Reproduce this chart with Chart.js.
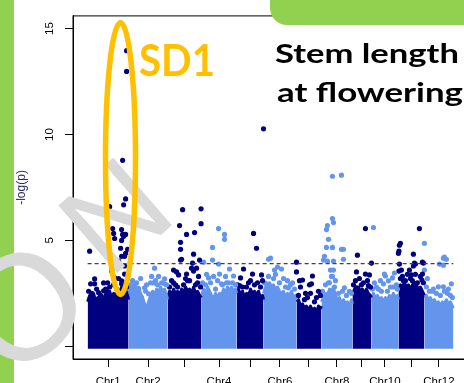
<!DOCTYPE html>
<html>
<head>
<meta charset="utf-8">
<script src="https://cdn.jsdelivr.net/npm/chart.js@4.4.1/dist/chart.umd.min.js"></script>
<style>
    html, body { margin: 0; padding: 0; background: #fff; overflow: hidden; }
    #wrap { position: relative; width: 464px; height: 383px; overflow: hidden; background: #fff; }
    #myChart { position: absolute; left: 0; top: 0; }
    .green { position: absolute; background: #92D050; }
    #overlay { position: absolute; left: 0; top: 0; }
</style>
</head>
<body>
<div id="wrap">
    <canvas id="myChart" width="480" height="383"></canvas>
    <div class="green" style="left:0;top:0;width:14px;height:383px"></div>
    <div class="green" style="left:270px;top:-20px;width:220px;height:45px;border-radius:17px"></div>
    <svg id="overlay" width="464" height="383">
        <text x="12" y="384" transform="rotate(-41 12 384)" font-family="Liberation Sans, Arial, sans-serif" font-size="150" fill="#d9d9d9">O</text>
        <text x="109" y="280" transform="rotate(-41 109 280)" font-family="Liberation Sans, Arial, sans-serif" font-size="130" fill="#d9d9d9">N</text>
        <ellipse cx="120.5" cy="158.5" rx="15" ry="136" fill="none" stroke="#FFC000" stroke-width="5.5"/>
        <text x="139" y="76" font-family="Lato, sans-serif" font-weight="700" font-size="43" fill="#FFC000" textLength="76" lengthAdjust="spacingAndGlyphs">SD1</text>
        <text x="275" y="63" font-family="Lato, sans-serif" font-weight="700" font-size="27" fill="#000" textLength="184" lengthAdjust="spacingAndGlyphs">Stem length</text>
        <text x="277" y="102" font-family="Lato, sans-serif" font-weight="700" font-size="27" fill="#000" textLength="186" lengthAdjust="spacingAndGlyphs">at flowering</text>
    </svg>
</div>
<script>
// Chromosomes (lengths in Mb, as laid out on the axis)
const chrNames = ["Chr1", "Chr2", "Chr3", "Chr4", "Chr5", "Chr6", "Chr7", "Chr8", "Chr9", "Chr10", "Chr11", "Chr12"];
const chrLengths = [41, 39, 34, 35, 27, 33, 25, 31, 19, 27, 26, 29];
const shownLabels = ["Chr1", "Chr2", "Chr4", "Chr6", "Chr8", "Chr10", "Chr12"];
const yTicks = [0, 5, 10, 15];
const threshold = 3.9;

// Top of the dense SNP cloud per chromosome: [position in chr, -log(p)]
const massTop = [
    [[0, 2.1], [2, 2.4], [4, 2.2], [6, 2.5], [8, 2.1], [10, 2.3], [12, 2.0], [14, 2.4], [16, 2.2], [18, 2.5], [20, 2.3],
     [22, 2.6], [24, 2.3], [26, 2.5], [28, 2.4], [30, 2.7], [32, 2.5], [34, 2.8], [36, 2.6], [38, 2.7], [40, 2.4], [41, 2.2]],
    [[0, 2.5], [2, 2.8], [4, 2.6], [6, 2.9], [8, 2.7], [10, 2.8], [12, 2.5], [14, 2.3], [16, 2.0], [18, 1.8], [20, 2.1],
     [22, 2.4], [24, 2.6], [26, 2.4], [28, 2.7], [30, 2.5], [32, 2.8], [34, 2.6], [36, 2.7], [38, 2.4], [39, 2.2]],
    [[0, 2.3], [2, 2.6], [4, 2.4], [6, 2.7], [8, 2.5], [10, 2.6], [12, 2.4], [14, 2.7], [16, 2.5], [18, 2.8], [20, 2.6],
     [22, 2.7], [24, 2.5], [26, 2.8], [28, 2.5], [30, 2.6], [32, 2.4], [34, 2.3]],
    [[0, 2.4], [2, 2.7], [4, 2.5], [6, 2.8], [8, 2.6], [10, 2.4], [12, 2.2], [14, 2.5], [16, 2.3], [18, 2.5], [20, 2.4],
     [22, 2.7], [24, 2.5], [26, 2.8], [28, 2.6], [30, 2.8], [32, 2.6], [34, 2.7], [35, 2.5]],
    [[0, 2.5], [2, 2.7], [4, 2.4], [6, 2.6], [8, 2.3], [10, 2.5], [12, 2.4], [14, 2.7], [16, 2.5], [18, 2.6], [20, 2.4],
     [22, 2.6], [24, 2.3], [26, 2.4], [27, 2.2]],
    [[0, 2.5], [2, 2.8], [4, 2.7], [6, 3.0], [8, 2.8], [10, 2.9], [12, 2.7], [14, 2.8], [16, 2.6], [18, 2.5], [20, 2.6],
     [22, 2.3], [24, 2.5], [26, 2.4], [28, 2.6], [30, 2.3], [32, 2.4], [33, 2.2]],
    [[0, 2.1], [2, 2.2], [4, 1.9], [6, 2.0], [8, 1.8], [10, 1.9], [12, 1.7], [14, 1.9], [16, 1.7], [18, 1.8], [20, 1.6],
     [22, 1.9], [24, 1.8], [25, 1.9]],
    [[0, 2.1], [2, 2.3], [4, 2.5], [6, 2.4], [8, 2.7], [10, 2.6], [12, 2.8], [14, 2.4], [16, 2.2], [18, 2.3], [20, 2.0],
     [22, 2.2], [24, 2.0], [26, 2.1], [28, 1.9], [30, 2.2], [31, 2.0]],
    [[0, 2.4], [2, 2.7], [4, 2.6], [6, 2.8], [8, 2.6], [10, 2.7], [12, 2.5], [14, 2.7], [16, 2.5], [18, 2.4], [19, 2.3]],
    [[0, 2.3], [2, 2.5], [4, 2.3], [6, 2.4], [8, 2.2], [10, 2.3], [12, 2.1], [14, 2.3], [16, 2.2], [18, 2.4], [20, 2.3],
     [22, 2.5], [24, 2.3], [26, 2.4], [27, 2.2]],
    [[0, 2.7], [2, 2.9], [4, 2.8], [6, 3.0], [8, 2.8], [10, 2.9], [12, 2.7], [14, 2.9], [16, 2.8], [18, 2.9], [20, 2.7],
     [22, 2.8], [24, 2.6], [26, 2.4]],
    [[0, 2.3], [2, 2.4], [4, 2.2], [6, 2.3], [8, 2.1], [10, 2.2], [12, 2.0], [14, 2.1], [16, 1.9], [18, 2.1], [20, 2.0],
     [22, 2.2], [24, 2.0], [26, 2.1], [28, 1.9], [29, 1.8]]
];

// Individual SNPs standing out above the cloud: [position in chr, -log(p)]
const peakPoints = [
    [[39, 13.96], [39, 12.98], [35, 8.78], [38, 6.96], [36, 6.68], [22, 6.59], [25, 5.56], [26, 5.33], [27, 5.09], [34, 5.51],
     [35, 5.28], [38, 5.28], [34, 5.0], [36, 5.19], [33, 4.63], [40, 4.58], [38, 4.39], [2, 4.49], [34, 4.25], [37, 4.25],
     [31, 4.02], [37, 3.79], [37, 3.41], [24, 3.55], [27, 3.23], [34, 3.09], [7, 3.18], [3, 2.95], [7, 2.95], [16, 2.99],
     [19, 2.62], [11, 2.53], [34, 2.95], [16, 2.62], [1, 2.6], [4, 2.5], [9, 2.7], [13, 2.4], [18, 2.7], [22, 2.8],
     [26, 2.9], [29, 2.7], [31, 3.2], [36, 3.0], [39, 2.8], [40, 3.3], [20, 3.0]],
    [[26, 3.69], [36, 3.18], [25, 2.99], [16, 2.76], [36, 2.95], [31, 2.62], [10, 2.72], [20, 2.48], [13, 2.30], [6, 2.86],
     [30, 3.3], [22, 3.0], [2, 2.9], [4, 3.1], [8, 3.0], [12, 3.2], [18, 2.9], [23, 3.3], [27, 3.1], [29, 2.9],
     [33, 3.0], [38, 2.9], [17, 2.6]],
    [[15, 6.45], [33.5, 6.49], [12, 5.70], [33.5, 5.79], [27, 5.37], [19, 5.28], [13, 4.91], [13, 4.58], [26, 4.35], [14, 4.11],
     [13, 4.07], [32, 4.07], [25, 3.93], [6, 3.60], [9, 3.51], [24, 3.69], [29, 3.69], [19, 3.41], [11, 3.37], [26, 3.55],
     [6, 2.99], [20, 3.1], [30, 3.0], [2, 2.8], [4, 3.1], [8, 2.9], [16, 2.9], [18, 3.2], [22, 3.1], [28, 2.9],
     [31, 3.3], [33, 2.8], [10, 2.8]],
    [[17, 5.56], [23, 5.28], [23, 5.05], [11, 4.67], [11, 4.07], [2, 3.97], [17, 3.88], [18, 3.41], [7, 3.23], [20, 2.95],
     [1, 2.99], [28, 3.65], [32, 3.32], [12, 3.3], [25, 3.0], [4, 2.9], [9, 3.0], [14, 2.7], [16, 3.1], [21, 2.9],
     [24, 3.3], [27, 3.0], [31, 3.0], [34, 2.9], [5, 3.4]],
    [[27, 10.27], [17, 5.33], [20, 4.63], [7, 3.65], [16, 3.41], [25, 3.37], [4, 3.23], [3, 2.86], [12, 3.0], [1, 2.9],
     [6, 2.8], [10, 2.8], [14, 3.1], [18, 2.9], [21, 3.0], [24, 2.8], [26, 3.1]],
    [[7, 4.16], [5, 4.11], [14, 3.74], [18, 3.65], [3, 2.95], [8, 2.81], [25, 2.76], [20, 3.2], [29, 3.0], [1, 3.0],
     [5, 3.3], [10, 3.2], [12, 3.4], [16, 3.0], [22, 2.8], [24, 3.1], [27, 2.9], [31, 2.7], [11, 3.6]],
    [[0, 3.97], [0, 3.51], [6, 3.13], [16, 3.32], [15, 2.95], [13, 2.90], [22, 2.6], [9, 2.5], [2, 2.4], [4, 2.8],
     [8, 2.2], [11, 2.3], [14, 2.5], [18, 2.1], [20, 2.3], [24, 2.4], [3, 3.1]],
    [[11, 8.03], [20, 8.08], [11, 6.03], [12, 5.84], [6, 5.70], [5, 5.51], [7, 5.05], [5, 4.67], [11, 4.67], [20, 4.58],
     [22, 4.58], [3, 4.25], [22, 4.11], [6, 4.02], [12, 4.02], [2, 4.07], [23, 2.76], [9, 3.6], [10, 3.3], [7, 3.0],
     [14, 3.1], [1, 2.6], [4, 2.9], [8, 3.0], [11, 3.3], [13, 2.8], [17, 2.5], [21, 2.6], [25, 2.4], [28, 2.6],
     [30, 2.5], [12, 3.6]],
    [[13, 5.56], [5, 4.30], [19, 3.93], [4, 3.51], [17, 3.37], [13, 3.41], [16, 2.86], [4, 2.76], [1, 2.9], [3, 3.1],
     [7, 3.2], [9, 2.9], [11, 3.0], [15, 3.1], [18, 2.8]],
    [[2, 5.61], [13, 3.41], [23, 3.46], [17, 3.09], [14, 3.32], [21, 3.23], [12, 2.95], [5, 2.8], [25, 2.9], [1, 2.7],
     [3, 3.0], [7, 2.7], [10, 2.6], [16, 2.6], [19, 2.8], [22, 2.8], [26, 2.7], [9, 3.1]],
    [[21, 5.56], [2, 4.86], [1, 4.77], [0.5, 4.49], [15, 4.35], [0, 4.39], [24, 3.97], [16, 3.93], [15, 3.79], [1, 3.88],
     [0.5, 3.55], [13, 3.37], [23.5, 3.13], [5, 3.09], [16, 2.95], [17, 3.88], [24, 3.41], [25, 3.93], [2, 3.2], [4, 3.3],
     [7, 3.1], [9, 3.4], [12, 3.2], [14, 3.1], [17, 3.4], [19, 3.0], [22, 3.3], [25, 3.0], [3, 3.6], [11, 3.6]],
    [[0, 4.86], [20, 4.21], [22, 4.11], [0, 3.60], [15, 3.88], [19, 3.83], [27, 2.95], [14, 2.81], [19, 2.81], [19, 4.16],
     [8, 2.6], [24, 2.7], [2, 2.8], [5, 2.6], [9, 2.7], [12, 2.5], [16, 2.4], [20, 2.6], [23, 2.5], [26, 2.4],
     [28, 2.3], [3, 3.2]]
];

const darkBlue = "#000080";
const lightBlue = "#6495ED";
const fontFamily = "'Liberation Sans', Arial, sans-serif";

// cumulative chromosome offsets
const chrStarts = [];
let acc = 0;
chrLengths.forEach((len) => { chrStarts.push(acc); acc += len; });
const genomeEnd = acc;
const chrCenters = chrStarts.map((s, i) => s + chrLengths[i] / 2);
const pad = genomeEnd * 0.04;

const chrColor = (i) => (i % 2 === 0 ? darkBlue : lightBlue);

function toXY(list, i) {
    return list.map(([pos, p]) => ({ x: chrStarts[i] + pos, y: p }));
}

const datasets = [];

// dashed significance line
datasets.push({
    type: "line",
    data: [{ x: 0, y: threshold }, { x: genomeEnd, y: threshold }],
    borderColor: "#444",
    borderWidth: 1.2,
    borderDash: [4, 3],
    pointRadius: 0,
    fill: false,
    order: 0,
});

// single SNP dots, one dataset per chromosome so neighbours overlap like the original
peakPoints.forEach((list, i) => {
    datasets.push({
        type: "scatter",
        data: toXY(list, i),
        backgroundColor: chrColor(i),
        pointRadius: 2.6,
        pointBorderWidth: 0,
        order: 1,
    });
});

// dense cloud of each chromosome
massTop.forEach((list, i) => {
    datasets.push({
        type: "line",
        data: toXY(list, i),
        borderColor: chrColor(i),
        backgroundColor: chrColor(i),
        borderWidth: 3,
        borderJoinStyle: "round",
        tension: 0,
        pointRadius: 0,
        fill: { value: -0.12 },
        order: 2,
    });
});

const plotBox = {
    id: "plotBox",
    afterDatasetsDraw(chart) {
        const { ctx, chartArea: a } = chart;
        ctx.save();
        ctx.strokeStyle = "#000";
        ctx.lineWidth = 1;
        ctx.strokeRect(a.left, a.top, a.right - a.left, a.bottom - a.top);
        ctx.restore();
    },
};

new Chart(document.getElementById("myChart"), {
    type: "scatter",
    data: { datasets },
    options: {
        responsive: false,
        animation: false,
        layout: { padding: { left: 0, top: 12, right: 12, bottom: 0 } },
        plugins: { legend: { display: false }, tooltip: { enabled: false } },
        scales: {
            x: {
                type: "linear",
                min: -pad,
                max: genomeEnd + pad,
                afterBuildTicks: (s) => { s.ticks = chrCenters.map((v) => ({ value: v })); },
                afterFit: (s) => { s.height = 24; },
                ticks: {
                    autoSkip: false,
                    maxRotation: 0,
                    padding: 8,
                    color: "#000",
                    font: { family: fontFamily, size: 11.5 },
                    callback: (v, i) => (shownLabels.includes(chrNames[i]) ? chrNames[i] : ""),
                },
                grid: { drawOnChartArea: false, drawTicks: true, tickLength: 8, color: "#000" },
                border: { display: true, color: "#000" },
            },
            y: {
                min: -0.6,
                max: 15.6,
                afterBuildTicks: (s) => { s.ticks = yTicks.map((v) => ({ value: v })); },
                afterFit: (s) => { s.width = 73; },
                ticks: {
                    minRotation: 90,
                    maxRotation: 90,
                    crossAlign: "center",
                    padding: 9,
                    color: "#000",
                    font: { family: fontFamily, size: 11.5 },
                },
                title: {
                    display: true,
                    text: "-log(p)",
                    color: "#2b2b6b",
                    font: { family: fontFamily, size: 12 },
                    padding: { top: 14, bottom: 0 },
                },
                grid: { drawOnChartArea: false, drawTicks: true, tickLength: 8, color: "#000" },
                border: { display: true, color: "#000" },
            },
        },
    },
    plugins: [plotBox],
});
</script>
</body>
</html>
